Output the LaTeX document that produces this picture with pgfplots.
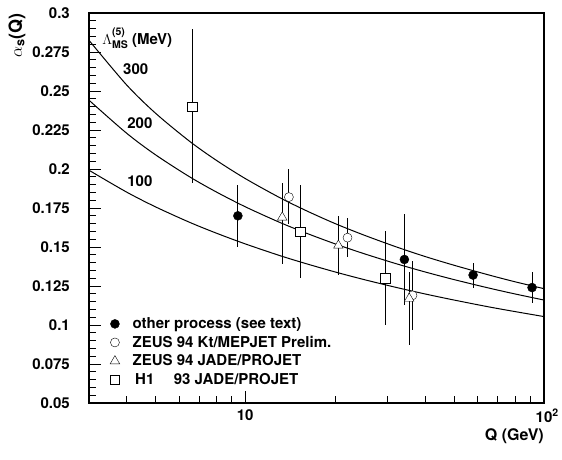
\documentclass[border=0pt]{standalone}
\usepackage{fontspec}
\setmainfont{TeX Gyre Heros}
\usepackage{pgfplots}
\pgfplotsset{compat=1.18}

\newcommand\bigf{\fontsize{15}{17}\selectfont\bfseries}
\newcommand\smf{\fontsize{10.5}{10.5}\selectfont\bfseries}

\begin{document}
\begin{tikzpicture}
\begin{axis}[
  scale only axis,
  width=455pt, height=390pt,
  set layers, mark layer=axis foreground,
  xmode=log,
  xmin=3, xmax=100,
  ymin=0.05, ymax=0.3,
  axis line style={line width=1.3pt},
  tick align=inside,
  xtick pos=bottom, ytick pos=left,
  xtick={10,100},
  xticklabels={10, 10\rlap{\textsuperscript{2}}},
  minor xtick={4,5,6,7,8,9,20,30,40,50,60,70,80,90},
  ytick={0.05,0.075,0.1,0.125,0.15,0.175,0.2,0.225,0.25,0.275,0.3},
  yticklabels={0.05,0.075,0.1,0.125,0.15,0.175,0.2,0.225,0.25,0.275,0.3},
  minor y tick num=4,
  major tick length=12pt, minor tick length=7pt,
  tick style={line width=0.8pt, black},
  ticklabel style={font=\bigf, inner sep=0pt},
  yticklabel style={xshift=-19pt},
  xticklabel style={yshift=-6pt},
  legend style={at={(rel axis cs:0.0395,0.227)}, anchor=north west,
    draw=none, fill=none, font=\bigf, row sep=4pt, column sep=12pt,
    nodes={inner sep=1pt}},
  legend cell align=left,
  error bars/y dir=both,
  error bars/y explicit,
  error bars/error mark=none,
  error bars/error bar style={line width=1pt},
]

% data points
\addplot[only marks, black, mark=*, mark size=4.5pt] coordinates {
  (9.45,0.170) +- (0,0.020)
  (34.1,0.142) +- (0,0.029)
  (57.9,0.132) +- (0,0.008)
  (91.2,0.124) +- (0,0.010)
};
\addplot[only marks, black, mark=*, mark size=4.5pt, mark options={fill=white}] coordinates {
  (14.0,0.182) += (0,0.018) -= (0,0.017)
  (22.0,0.156) +- (0,0.0125)
  (36.3,0.119) +- (0,0.022)
};
\addplot[only marks, black, mark=triangle*, mark size=5.5pt, mark options={fill=white}] coordinates {
  (13.3,0.169) += (0,0.022) -= (0,0.030)
  (20.5,0.151) +- (0,0.019)
  (35.4,0.117) += (0,0.017) -= (0,0.030)
};
\addplot[only marks, black, mark=square*, mark size=4.6pt, mark options={fill=white}] coordinates {
  (6.65,0.240) += (0,0.050) -= (0,0.049)
  (15.27,0.160) +- (0,0.030)
  (29.4,0.130) +- (0,0.030)
};
\legend{other process (see text), ZEUS 94 Kt/MEPJET Prelim., ZEUS 94 JADE/PROJET,
  \rlap{\,H1}\hphantom{ZEUS}\hspace{-3pt} 93 JADE/PROJET}

% alpha_s curves
\addplot[black, line width=1pt, smooth, forget plot] coordinates {
  (3,0.1992) (4,0.1853) (5,0.1758) (6.5,0.1659) (8,0.1589) (10,0.1520)
  (13,0.1446) (16,0.1393) (20,0.1340) (25,0.1291) (32,0.1241) (40,0.1199)
  (50,0.1160) (65,0.1117) (80,0.1086) (100,0.1054)
};
\addplot[black, line width=1pt, smooth, forget plot] coordinates {
  (3,0.2441) (4,0.2231) (5,0.2092) (6.5,0.1951) (8,0.1853) (10,0.1758)
  (13,0.1659) (16,0.1589) (20,0.1520) (25,0.1457) (32,0.1393) (40,0.1340)
  (50,0.1291) (65,0.1238) (80,0.1199) (100,0.1160)
};
\addplot[black, line width=1pt, smooth, forget plot] coordinates {
  (3,0.2825) (4,0.2541) (5,0.2359) (6.5,0.2179) (8,0.2056) (10,0.1939)
  (13,0.1818) (16,0.1733) (20,0.1650) (25,0.1576) (32,0.1501) (40,0.1439)
  (50,0.1383) (65,0.1322) (80,0.1277) (100,0.1233)
};

\node[anchor=west, font=\bigf, inner sep=0pt] at (axis cs:3.32,0.284)
  {$\Lambda$\rlap{\raisebox{1.1ex}{\smf(5)}}\raisebox{-0.5ex}{\smf MS} (MeV)};
\node[font=\bigf] at (axis cs:4.30,0.2641) {300};
\node[font=\bigf] at (axis cs:4.44,0.2295) {200};
\node[font=\bigf] at (axis cs:4.44,0.1923) {100};

\coordinate (sw) at (rel axis cs:0,0);
\coordinate (nw) at (rel axis cs:0,1);
\coordinate (se) at (rel axis cs:1,0);
\end{axis}

\node[rotate=90, anchor=east, inner sep=0pt, font=\fontsize{18}{20}\selectfont\bfseries]
  at ([xshift=-72pt]nw) {$\alpha$\textsubscript{s}(Q)};
\node[anchor=north east, inner sep=0pt, font=\fontsize{16}{18}\selectfont\bfseries]
  at ([yshift=-25pt]se) {Q (GeV)};

\pgfresetboundingbox
\path ([shift={(-89pt,-56pt)}]sw) rectangle ++(562pt,459pt);
\end{tikzpicture}
\end{document}
